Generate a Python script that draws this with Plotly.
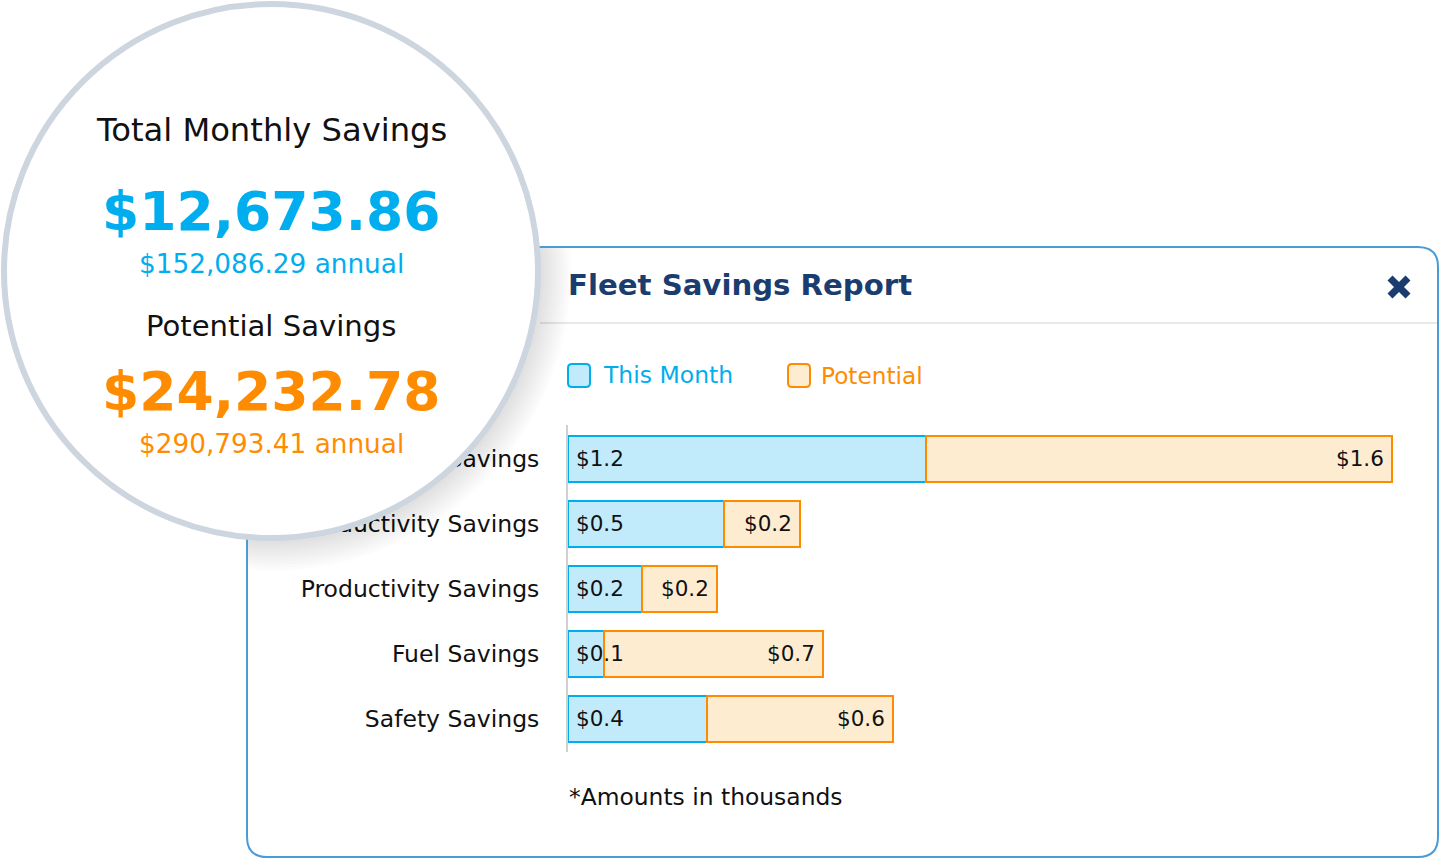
import math

import plotly.graph_objects as go

W, H = 1440, 859
FONT = "DejaVu Sans"
BLUE = "#00aeef"
BLUE_FILL = "#c1eafb"
ORANGE = "#ff8c00"
ORANGE_FILL = "#feecd1"
NAVY = "#1a3c6e"
PANEL = "#4a9bd6"
RING = "#cdd5df"

# first label is cut off by the circle in the source, only "avings" can be read
categories = ["Savings", "Productivity Savings", "Productivity Savings", "Fuel Savings", "Safety Savings"]
this_month = [1.193, 0.52, 0.245, 0.12, 0.463]
potential = [1.553, 0.252, 0.25, 0.73, 0.62]
this_month_labels = ["$1.2", "$0.5", "$0.2", "$0.1", "$0.4"]
potential_labels = ["$1.6", "$0.2", "$0.2", "$0.7", "$0.6"]
rows = list(range(len(categories)))


def px(x):
    return x / W


def py(y):
    return 1 - y / H


def text(x, y, s, size, color="#111111", bold=False, anchor="center"):
    return dict(
        x=px(x), y=py(y), xref="paper", yref="paper", text=f"<b>{s}</b>" if bold else s,
        showarrow=False, xanchor=anchor, yanchor="middle",
        font=dict(family=FONT, size=size, color=color),
    )


def rounded_rect(x0, y0, x1, y1, r):
    return (
        f"M{px(x0 + r)},{py(y0)} L{px(x1 - r)},{py(y0)} Q{px(x1)},{py(y0)} {px(x1)},{py(y0 + r)} "
        f"L{px(x1)},{py(y1 - r)} Q{px(x1)},{py(y1)} {px(x1 - r)},{py(y1)} "
        f"L{px(x0 + r)},{py(y1)} Q{px(x0)},{py(y1)} {px(x0)},{py(y1 - r)} "
        f"L{px(x0)},{py(y0 + r)} Q{px(x0)},{py(y0)} {px(x0 + r)},{py(y0)} Z"
    )


def shadow_ring(cx, cy, r):
    # the shadow only falls on the panel, so clamp it to the panel corner
    pts = []
    for i in range(120):
        a = 2 * math.pi * i / 120
        x = max(cx + r * math.cos(a), 248)
        y = max(cy + r * math.sin(a), 248)
        pts.append(f"{px(x)},{py(y)}")
    return "M" + " L".join(pts) + " Z"


fig = go.Figure()
fig.add_bar(
    y=rows, x=this_month, orientation="h", name="This Month", width=0.7,
    marker=dict(color=BLUE_FILL, line=dict(color=BLUE, width=2)),
)
fig.add_bar(
    y=rows, x=potential, orientation="h", name="Potential", width=0.7,
    marker=dict(color=ORANGE_FILL, line=dict(color=ORANGE, width=2)),
)

shapes = [
    # report panel and header rule
    dict(type="path", path=rounded_rect(247, 247, 1438, 857, 20), xref="paper", yref="paper",
         line=dict(color=PANEL, width=2), fillcolor="rgba(0,0,0,0)", layer="below"),
    dict(type="line", x0=px(540), x1=px(1437), y0=py(323), y1=py(323), xref="paper", yref="paper",
         line=dict(color="#e6e9ea", width=2), layer="below"),
    # legend swatches
    dict(type="path", path=rounded_rect(568, 364, 590, 387, 4), xref="paper", yref="paper",
         line=dict(color=BLUE, width=2), fillcolor=BLUE_FILL),
    dict(type="path", path=rounded_rect(788, 364, 810, 387, 4), xref="paper", yref="paper",
         line=dict(color=ORANGE, width=2), fillcolor=ORANGE_FILL),
    # close icon
    dict(type="line", x0=px(1390), x1=px(1408), y0=py(278), y1=py(296), xref="paper", yref="paper",
         line=dict(color=NAVY, width=7)),
    dict(type="line", x0=px(1390), x1=px(1408), y0=py(296), y1=py(278), xref="paper", yref="paper",
         line=dict(color=NAVY, width=7)),
]

for r in range(300, 270, -3):
    shapes.append(dict(type="path", path=shadow_ring(271, 271, r), xref="paper", yref="paper",
                       line=dict(width=0), fillcolor="rgba(0,0,0,0.01)"))

# magnifier circle goes over the tick labels
shapes.append(dict(type="circle", x0=px(4), x1=px(538), y0=py(538), y1=py(4), xref="paper", yref="paper",
                   line=dict(color=RING, width=6), fillcolor="white"))

annotations = [
    text(566, 285, "Fleet Savings Report", 29.2, NAVY, bold=True, anchor="left"),
    text(601, 375, "This Month", 23.5, BLUE, anchor="left"),
    text(819, 375, "Potential", 23.2, ORANGE, anchor="left"),
    text(567, 797, "*Amounts in thousands", 23.4, anchor="left"),
    text(271, 130, "Total Monthly Savings", 32.2),
    text(271, 212, "$12,673.86", 53.5, BLUE, bold=True),
    text(271, 264, "$152,086.29 annual", 26.3, BLUE),
    text(271, 326, "Potential Savings", 29.1),
    text(271, 392, "$24,232.78", 53.5, ORANGE, bold=True),
    text(271, 444, "$290,793.41 annual", 26.3, ORANGE),
]

# bar labels sit on top of both bars, "$0.1" runs over the orange one
for row, tm, pot, tm_label, pot_label in zip(rows, this_month, potential, this_month_labels, potential_labels):
    annotations.append(dict(x=0, y=row, xref="x", yref="y", text=tm_label, showarrow=False,
                            xanchor="left", xshift=6, font=dict(family=FONT, size=21.5, color="#111111")))
    annotations.append(dict(x=tm + pot, y=row, xref="x", yref="y", text=pot_label, showarrow=False,
                            xanchor="right", xshift=-6, font=dict(family=FONT, size=21.5, color="#111111")))

fig.update_layout(
    width=W,
    height=H,
    autosize=False,
    margin=dict(l=0, r=0, t=0, b=0),
    barmode="stack",
    bargap=0.3,
    showlegend=False,
    paper_bgcolor="white",
    plot_bgcolor="white",
    font=dict(family=FONT),
    shapes=shapes,
    annotations=annotations,
    xaxis=dict(domain=[px(568), px(1418)], range=[0, 850 / 300], visible=False, fixedrange=True),
    yaxis=dict(
        domain=[py(752), py(425)], range=[4.51, -0.52], tickmode="array", tickvals=rows, ticktext=categories,
        ticks="", showgrid=False, zeroline=False, showline=True, linecolor="#cfd0d2", linewidth=2,
        ticklabelstandoff=22, tickfont=dict(family=FONT, size=23.5, color="#111111"), fixedrange=True,
    ),
)

fig.write_html("out.html", config={"displayModeBar": False},
               post_script="document.body.style.margin='0';document.body.style.overflow='hidden';")
